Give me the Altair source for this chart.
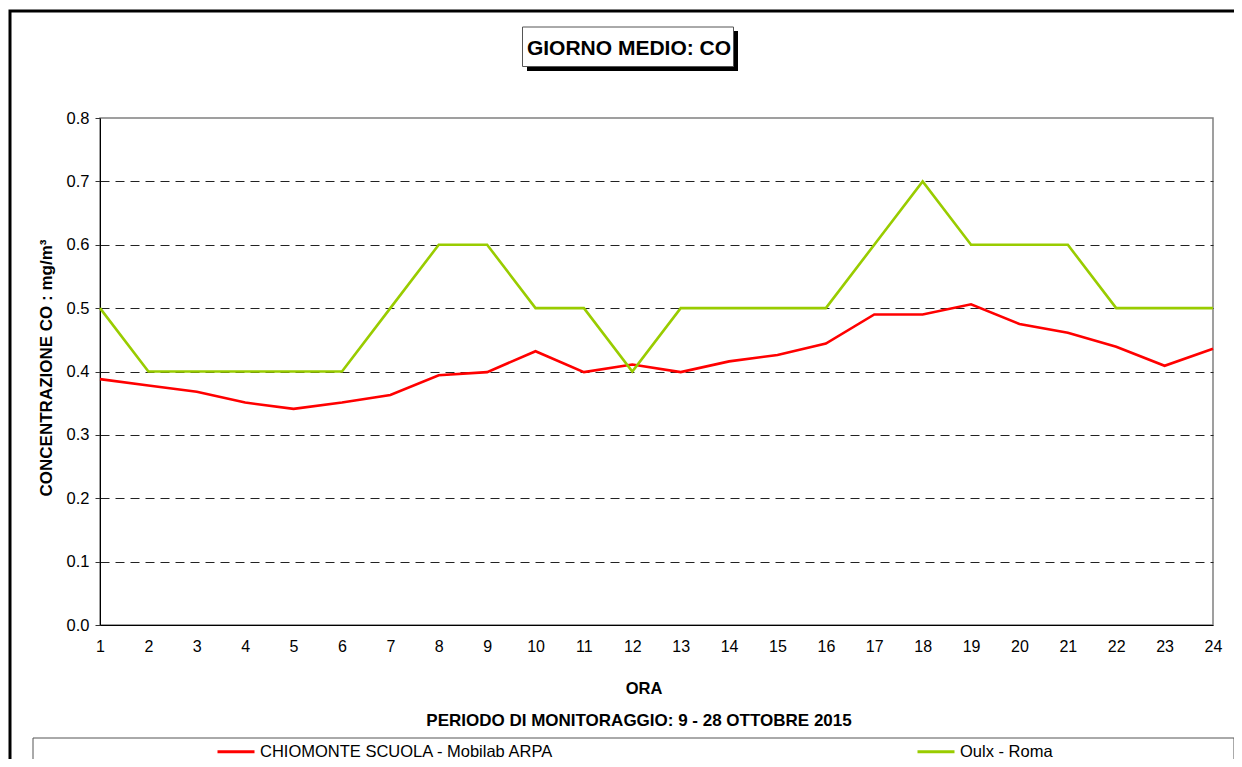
import altair as alt
import pandas as pd

hours = list(range(1, 25))
series_names = ["CHIOMONTE SCUOLA - Mobilab ARPA", "Oulx - Roma"]
chiomonte = [0.388, 0.378, 0.368, 0.351, 0.341, 0.351, 0.363, 0.394, 0.399, 0.432, 0.399, 0.411,
             0.399, 0.416, 0.426, 0.444, 0.490, 0.490, 0.506, 0.475, 0.461, 0.439, 0.409, 0.436]
oulx = [0.5, 0.4, 0.4, 0.4, 0.4, 0.4, 0.5, 0.6, 0.6, 0.5, 0.5, 0.4,
        0.5, 0.5, 0.5, 0.5, 0.6, 0.7, 0.6, 0.6, 0.6, 0.5, 0.5, 0.5]
y_ticks = [0.0, 0.1, 0.2, 0.3, 0.4, 0.5, 0.6, 0.7, 0.8]
colors = ["#FF0000", "#99CC00"]

title_text = "GIORNO MEDIO: CO"
y_title = "CONCENTRAZIONE CO :  mg/m³"
x_title = "ORA"
subtitle = "PERIODO DI MONITORAGGIO: 9 - 28 OTTOBRE 2015"

FONT = "Liberation Sans"
W, H = 1113, 507

df = pd.DataFrame({
    "ora": hours * 2,
    "valore": chiomonte + oulx,
    "serie": [series_names[0]] * 24 + [series_names[1]] * 24,
    "ordine": [0] * 24 + [1] * 24,
})

one = pd.DataFrame({"k": [0]})

# outer frame
frame = alt.Chart(one).mark_rect(fill="white", fillOpacity=0, stroke="black", strokeWidth=3).encode(
    x=alt.value(-90), x2=alt.value(1300), y=alt.value(-107), y2=alt.value(900)
)

# title box with shadow
shadow = alt.Chart(one).mark_rect(fill="black").encode(
    x=alt.value(427), x2=alt.value(638), y=alt.value(-87), y2=alt.value(-47)
)
tbox = alt.Chart(one).mark_rect(fill="white", stroke="#555555", strokeWidth=1).encode(
    x=alt.value(422.5), x2=alt.value(633.5), y=alt.value(-91), y2=alt.value(-51.5)
)
ttext = alt.Chart(one).mark_text(font=FONT, fontSize=21, fontWeight="bold", color="black",
                                 align="center", baseline="alphabetic").encode(
    x=alt.value(529), y=alt.value(-63.5), text=alt.value(title_text)
)

# legend box
lbox = alt.Chart(one).mark_rect(fill="white", stroke="#555555", strokeWidth=1).encode(
    x=alt.value(-67), x2=alt.value(1134), y=alt.value(620), y2=alt.value(900)
)

# axis titles at the bottom
xt = alt.Chart(one).mark_text(font=FONT, fontSize=16.5, fontWeight="bold", color="black",
                              align="center", baseline="alphabetic").encode(
    x=alt.value(544), y=alt.value(575.5), text=alt.value(x_title)
)
st = alt.Chart(one).mark_text(font=FONT, fontSize=17, fontWeight="bold", color="black",
                              align="center", baseline="alphabetic").encode(
    x=alt.value(539), y=alt.value(607.5), text=alt.value(subtitle)
)

lines = alt.Chart(df).mark_line(strokeWidth=2.6).encode(
    x=alt.X("ora:Q",
            scale=alt.Scale(domain=[1, 24], nice=False, zero=False),
            axis=alt.Axis(values=hours, format="d", title=None, grid=False, ticks=False,
                          domainColor="black", domainWidth=1,
                          labelFont=FONT, labelFontSize=16, labelColor="black",
                          labelPadding=13, labelFlush=False)),
    y=alt.Y("valore:Q",
            scale=alt.Scale(domain=[0, 0.8], nice=False),
            axis=alt.Axis(values=y_ticks, format=".1f", title=y_title,
                          grid=True, gridColor="#222222", gridDash=[9, 6], gridWidth=1,
                          gridOpacity={"condition": {"test": "datum.value >= 0.79 || datum.value <= 0.01", "value": 0}, "value": 1},
                          domainColor="black", domainWidth=1,
                          tickSize=5, tickColor="#333333", tickWidth=1,
                          labelFont=FONT, labelFontSize=16.5, labelColor="black", labelPadding=6,
                          titleFont=FONT, titleFontSize=17, titleFontWeight="bold", titleColor="black",
                          titleAngle=-90, titleX=-53.5, titleY=249.5,
                          titleAlign="center", titleBaseline="middle")),
    color=alt.Color("serie:N",
                    scale=alt.Scale(domain=series_names, range=colors),
                    legend=alt.Legend(title=None, orient="none", direction="horizontal",
                                      legendX=116, legendY=613.5, padding=0,
                                      symbolType="stroke", symbolSize=1369, symbolStrokeWidth=3,
                                      labelFont=FONT, labelFontSize=16.5, labelColor="black",
                                      labelOffset=4, labelLimit=500, columnPadding=356)),
    order=alt.Order("ordine:Q"),
    detail="serie:N",
)

chart = alt.layer(frame, shadow, tbox, ttext, lbox, xt, st, lines).properties(
    width=W, height=H,
    autosize=alt.AutoSizeParams(type="none"),
    padding={"left": 92, "top": 110, "right": 21, "bottom": 134},
    background="white",
).configure_view(stroke="#808080", strokeWidth=1.5)

chart.save("out.html", embed_options={"renderer": "svg", "actions": False})
